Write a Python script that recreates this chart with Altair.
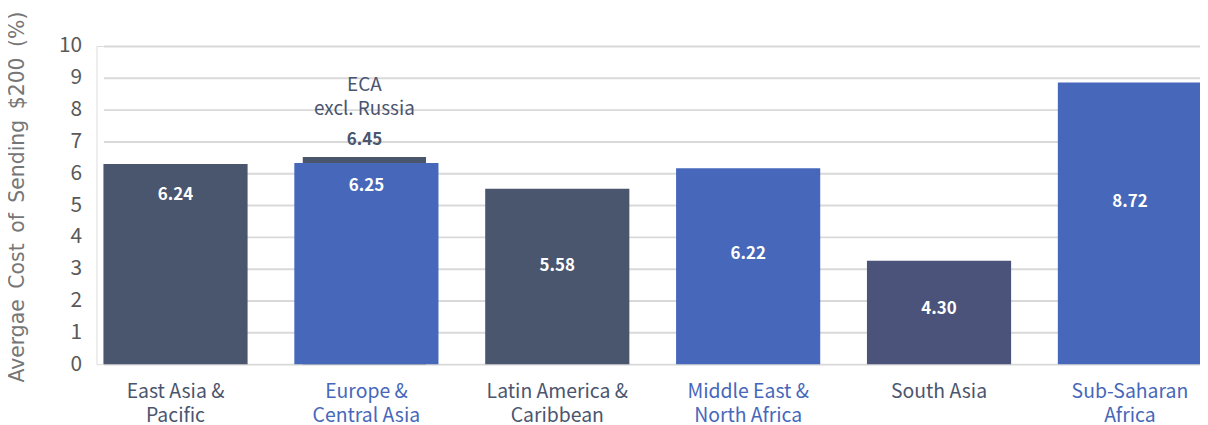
import altair as alt
import pandas as pd

# ---- data ----
regions = ["East Asia & Pacific", "Europe & Central Asia", "Latin America & Caribbean",
           "Middle East & North Africa", "South Asia", "Sub-Saharan Africa"]
bar_values = [6.29, 6.32, 5.51, 6.16, 3.25, 8.85]
value_labels = ["6.24", "6.25", "5.58", "6.22", "4.30", "8.72"]
label_at = [5.32, 5.60, 3.07, 3.47, 1.72, 5.10]
bar_colors = ["#4a556e", "#4667ba", "#4a556e", "#4667ba", "#4b537a", "#4667ba"]

eca_excl_value = 6.51
eca_excl_label = "6.45"
eca_excl_label_at = 7.04
eca_excl_title = ["ECA", "excl. Russia"]
eca_excl_title_at = [8.76, 8.01]

y_ticks = list(range(0, 11))
y_title = "Avergae Cost of Sending $200 (%)"
blue_regions = ["Europe & Central Asia", "Middle East & North Africa", "Sub-Saharan Africa"]

FONT = "Noto Sans CJK KR"
DARK = "#4a556e"
BLUE = "#4667ba"

df = pd.DataFrame({"region": regions, "value": bar_values, "label": value_labels,
                   "label_y": label_at, "color": bar_colors})
eca = pd.DataFrame({"region": [regions[1]], "value": [eca_excl_value],
                    "label": [eca_excl_label], "label_y": [eca_excl_label_at]})
eca_title = pd.DataFrame({"region": [regions[1]] * 2, "text": eca_excl_title,
                          "y": eca_excl_title_at})

blue_test = "indexof(" + str(blue_regions) + ", datum.value) >= 0"

x_enc = alt.X(
    "region:N", sort=regions, title=None,
    scale=alt.Scale(range=[7, 1112], paddingInner=0.2448, paddingOuter=0),
    axis=alt.Axis(
        domain=False, ticks=False, labelAngle=0, labelFont=FONT, labelFontSize=19.5,
        labelPadding=19, labelLineHeight=24, labelBaseline="top",
        labelExpr="split(replace(replace(datum.label, ' & ', ' &|'), 'Sub-Saharan ', 'Sub-Saharan|'), '|')",
        labelColor={"condition": {"test": blue_test, "value": BLUE}, "value": DARK},
    ),
)
y_scale = alt.Scale(domain=[0, 10], nice=False)
y_axis = alt.Axis(
    values=y_ticks, tickCount=11, labelOverlap=False, domain=False, ticks=False,
    labelFont=FONT, labelFontSize=21, labelColor="#595959", labelPadding=15,
    gridColor="#d9d9d9", gridWidth=2,
    titleFont="DejaVu Sans", titleFontSize=20.5, titleFontWeight="normal", titleColor="#767676",
    titleAngle=270, titleAlign="left", titleBaseline="top",
    titleX=-89, titleY=338,
)
# slightly wider word gaps as in the reference
y_enc = alt.Y("value:Q", scale=y_scale, title=y_title.replace(" ", " \u2009"), axis=y_axis)

base = alt.Chart(df)

eca_bar = alt.Chart(eca).mark_bar(width=124, xOffset=-2, color=DARK).encode(
    x=x_enc, y=y_enc
)

bars = base.mark_bar().encode(
    x=alt.X("region:N", sort=regions),
    y=y_enc,
    color=alt.Color("color:N", scale=None),
)

labels = base.mark_text(font=FONT, fontSize=17, fontWeight="bold", color="white",
                        baseline="middle").encode(
    x=alt.X("region:N", sort=regions),
    y=alt.Y("label_y:Q", scale=y_scale),
    text="label:N",
)

eca_lab = alt.Chart(eca).mark_text(font=FONT, fontSize=17, fontWeight="bold", color=DARK,
                                   baseline="middle", dx=-2).encode(
    x=alt.X("region:N", sort=regions),
    y=alt.Y("label_y:Q", scale=y_scale),
    text="label:N",
)

eca_tit = alt.Chart(eca_title).mark_text(font=FONT, fontSize=19, color=DARK,
                                         baseline="middle", dx=-2).encode(
    x=alt.X("region:N", sort=regions),
    y=alt.Y("y:Q", scale=y_scale),
    text="text:N",
)

chart = alt.layer(eca_bar, bars, labels, eca_lab, eca_tit).properties(
    width=1110, height=320,
    autosize=alt.AutoSizeParams(type="none"),
    padding={"left": 89, "top": 37, "right": 0, "bottom": 60},
).configure_view(stroke=None).configure(background="white")

chart.save("out.html", embed_options={"renderer": "svg", "actions": False})
